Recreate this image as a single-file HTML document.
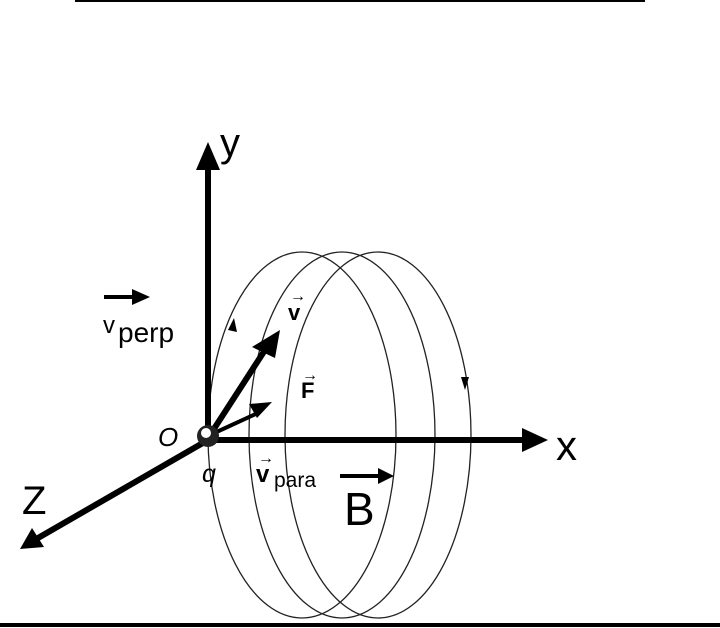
<!DOCTYPE html>
<html><head><style>body{margin:0;background:#fff}svg{display:block}</style></head><body>
<svg width="720" height="628" viewBox="0 0 720 628" xmlns="http://www.w3.org/2000/svg" font-family="Liberation Sans, sans-serif">
<rect width="720" height="628" fill="#fff"/>
<line x1="75" y1="1" x2="645" y2="1" stroke="#000" stroke-width="2"/>
<line x1="0" y1="625" x2="720" y2="625" stroke="#000" stroke-width="4"/>
<g fill="none" stroke="#222" stroke-width="1.3">
<ellipse cx="302" cy="435" rx="94" ry="183"/>
<ellipse cx="342" cy="435" rx="93" ry="183"/>
<ellipse cx="378" cy="435" rx="93" ry="183"/>
</g>
<polygon points="228,330 234,318 237,332" fill="#000"/>
<polygon points="461,377 469,377 465,390" fill="#000"/>
<g stroke="#000" stroke-width="6">
<line x1="208" y1="440" x2="208" y2="165"/>
<line x1="208" y1="440" x2="525" y2="440"/>
<line x1="208" y1="440" x2="38" y2="538"/>
<line x1="210" y1="435" x2="265" y2="350"/>
</g>
<line x1="210" y1="435" x2="260" y2="412" stroke="#000" stroke-width="4"/>
<polygon points="208,142 196,170 220,170" fill="#000"/>
<polygon points="548,440 522,428 522,452" fill="#000"/>
<polygon points="20,549 32,528 44,547" fill="#000"/>
<polygon points="280,330 252,347 275,358" fill="#000"/>
<polygon points="272,402 249,404 257,418" fill="#000"/>
<circle cx="208" cy="436" r="11" fill="#222"/>
<circle cx="206" cy="433" r="5" fill="#fff"/>
<line x1="104" y1="297" x2="135" y2="297" stroke="#000" stroke-width="4"/>
<polygon points="150,297 132,289 132,305" fill="#000"/>
<line x1="340" y1="476" x2="382" y2="476" stroke="#000" stroke-width="4"/>
<polygon points="394,476 378,468 378,484" fill="#000"/>
<text x="220" y="156" font-size="40">y</text>
<text x="556" y="460" font-size="42">x</text>
<text x="22" y="514" font-size="40">Z</text>
<text x="103" y="333" font-size="24">v</text><text x="118" y="342" font-size="28">perp</text>
<text x="158" y="446" font-size="26" font-style="italic">O</text>
<text x="202" y="482" font-size="25" font-style="italic">q</text>
<text x="288" y="320" font-size="22" font-weight="bold">v</text>
<text x="290" y="301" font-size="16" font-weight="bold">→</text>
<text x="301" y="398" font-size="22" font-weight="bold">F</text>
<text x="302" y="380" font-size="16" font-weight="bold">→</text>
<text x="256" y="482" font-size="24" font-weight="bold">v</text>
<text x="258" y="463" font-size="16" font-weight="bold">→</text>
<text x="274" y="487" font-size="21">para</text>
<text x="344" y="525" font-size="46">B</text>
</svg>
</body></html>
